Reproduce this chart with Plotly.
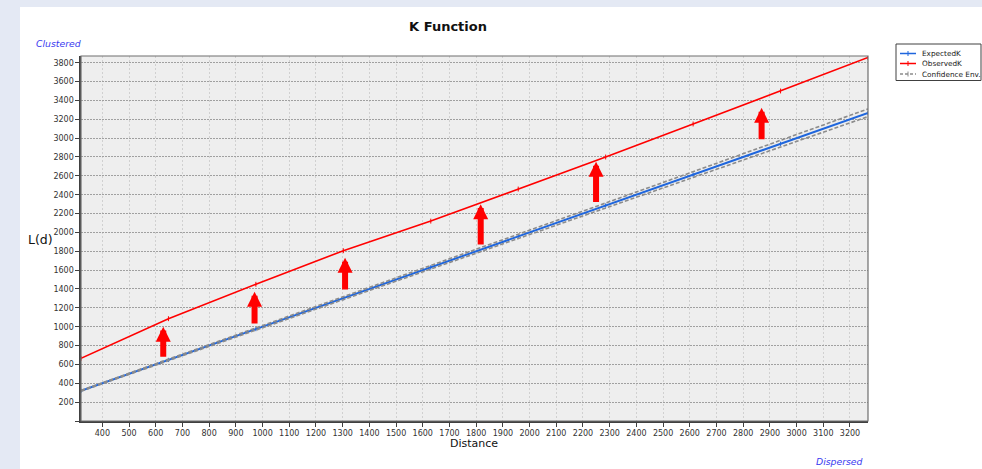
import plotly.graph_objects as go

# ---------------- data ----------------
distance = [320, 647.5, 975, 1302.5, 1630, 1957.5, 2285, 2612.5, 2940, 3267.5]
expected_k = [320, 647.5, 975, 1302.5, 1630, 1957.5, 2285, 2612.5, 2940, 3267.5]
observed_k = [665, 1085, 1450, 1806, 2120, 2460, 2800, 3150, 3500, 3855]
conf_upper = [325, 655, 986, 1316, 1648, 1979, 2312, 2644, 2977, 3310]
conf_lower = [316, 641, 965, 1289, 1614, 1937, 2261, 2583, 2906, 3228]

x_ticks = list(range(400, 3201, 100))
y_ticks = list(range(0, 3801, 200))
y_ticktext = [("" if v == 0 else str(v)) for v in y_ticks]

arrow_x = [628, 970, 1309, 1817, 2249, 2869]
arrow_base = [665, 1018, 1378, 1855, 2308, 2971]
arrow_tip = [1000, 1371, 1731, 2300, 2749, 3321]

legend_names = ["ExpectedK", "ObservedK", "Confidence Env."]

# ---------------- layout helpers ----------------
W, H = 982, 469
ML, MR, MT, MB = 81, 114, 56, 48
PW, PH = W - ML - MR, H - MT - MB


def px(x):
    return (x - ML) / PW


def py(y):
    return (H - MB - y) / PH


BLUE = "#1F66DD"
RED = "#FF0000"
GRAY = "#8C8C8C"
FONT = "DejaVu Sans"
ENV_DASH = "4px,2px"

fig = go.Figure()

fig.add_trace(go.Scatter(
    x=distance, y=expected_k, mode="lines+markers", name=legend_names[0],
    line=dict(color=BLUE, width=2),
    marker=dict(symbol="line-ns-open", size=3, line=dict(width=1, color=BLUE)),
))
fig.add_trace(go.Scatter(
    x=distance, y=conf_upper, mode="lines", name=legend_names[2],
    line=dict(color=GRAY, width=1.6, dash=ENV_DASH),
))
fig.add_trace(go.Scatter(
    x=distance, y=conf_lower, mode="lines", name=legend_names[2],
    line=dict(color=GRAY, width=1.6, dash=ENV_DASH), showlegend=False,
))
fig.add_trace(go.Scatter(
    x=distance, y=observed_k, mode="lines+markers", name=legend_names[1],
    line=dict(color=RED, width=1.6),
    marker=dict(symbol="line-ns-open", size=3.5, line=dict(width=1, color=RED)),
))

shapes = [
    # white panel
    dict(type="rect", xref="paper", yref="paper", x0=px(20), x1=px(W + 5),
         y0=py(H + 5), y1=py(7), fillcolor="white", line=dict(width=0), layer="below"),
    # plot area
    dict(type="rect", xref="paper", yref="paper", x0=0, x1=1, y0=0, y1=1,
         fillcolor="#EEEEEE", line=dict(width=0), layer="below"),
    # border top/right
    dict(type="rect", xref="paper", yref="paper", x0=0, x1=1, y0=0, y1=1,
         fillcolor="rgba(0,0,0,0)", line=dict(width=1.2, color="#6E6E6E"), layer="above"),
    # legend box
    dict(type="rect", xref="paper", yref="paper", x0=px(896), x1=px(981),
         y0=py(80.5), y1=py(44), fillcolor="white", line=dict(width=1, color="#404040")),
]

legend_y = [53.5, 63.5, 74]
legend_colors = [BLUE, RED, GRAY]
legend_dash = ["solid", "solid", "3px,2px"]
annotations = []
for name, yy, col, dsh in zip(legend_names, legend_y, legend_colors, legend_dash):
    shapes.append(dict(type="line", xref="paper", yref="paper", x0=px(900), x1=px(916),
                       y0=py(yy), y1=py(yy), line=dict(color=col, width=1.5, dash=dsh)))
    shapes.append(dict(type="line", xref="paper", yref="paper", x0=px(908), x1=px(908),
                       y0=py(yy - 2.5), y1=py(yy + 2.5), line=dict(color=col, width=1)))
    annotations.append(dict(text=name, xref="paper", yref="paper", x=px(920), y=py(yy),
                            xanchor="left", yanchor="middle", showarrow=False,
                            font=dict(family=FONT, size=7.3, color="#222222")))

for ax_, b_, t_ in zip(arrow_x, arrow_base, arrow_tip):
    annotations.append(dict(
        x=ax_, y=t_, ax=ax_, ay=b_, xref="x", yref="y", axref="x", ayref="y",
        text="", showarrow=True, arrowhead=2, arrowsize=0.5, arrowwidth=6,
        arrowcolor=RED, standoff=0, startstandoff=0,
    ))

annotations += [
    dict(text="L(d)", xref="paper", yref="paper", x=px(40.5), y=py(239),
         xanchor="center", yanchor="middle", showarrow=False,
         font=dict(family=FONT, size=12.5, color="#111111")),
    dict(text="Distance", xref="paper", yref="paper", x=px(474), y=py(443.5),
         xanchor="center", yanchor="middle", showarrow=False,
         font=dict(family=FONT, size=11, color="#111111")),
    dict(text="<i>Clustered</i>", xref="paper", yref="paper", x=px(34), y=py(43.5),
         xanchor="left", yanchor="middle", showarrow=False,
         font=dict(family=FONT, size=9.3, color="#3A3AF0")),
    dict(text="<i>Dispersed</i>", xref="paper", yref="paper", x=px(865), y=py(461),
         xanchor="right", yanchor="middle", showarrow=False,
         font=dict(family=FONT, size=9.3, color="#3A3AF0")),
]

fig.update_layout(
    width=W, height=H,
    margin=dict(l=ML, r=MR, t=MT, b=MB, pad=0),
    paper_bgcolor="#E4E9F4",
    plot_bgcolor="rgba(0,0,0,0)",
    showlegend=False,
    hovermode=False,
    title=dict(text="<b>K Function</b>", x=448 / W, xref="container", xanchor="center",
               y=1 - 26 / H, yref="container", yanchor="middle",
               font=dict(family=FONT, size=13, color="#111111")),
    shapes=shapes,
    annotations=annotations,
    xaxis=dict(
        range=[distance[0], distance[-1]], tickvals=x_ticks, ticktext=[str(v) for v in x_ticks],
        ticks="outside", ticklen=4, tickcolor="#404040", tickwidth=1,
        showline=True, linecolor="#404040", linewidth=1.6,
        showgrid=True, gridcolor="#D0D0D0", griddash="2px,2px", gridwidth=1,
        zeroline=False, tickfont=dict(family=FONT, size=8, color="#333333"),
    ),
    yaxis=dict(
        range=[0, 3871], tickvals=y_ticks, ticktext=y_ticktext,
        ticks="outside", ticklen=4, tickcolor="#404040", tickwidth=1,
        showline=True, linecolor="#404040", linewidth=1.6,
        showgrid=True, gridcolor="#A0A0A0", griddash="2px,1px", gridwidth=1,
        zeroline=False, tickfont=dict(family=FONT, size=8, color="#333333"),
    ),
)

fig.write_html(
    "out.html",
    config={"displayModeBar": False, "staticPlot": True},
    post_script="document.body.style.margin='0';document.body.style.overflow='hidden';",
)
